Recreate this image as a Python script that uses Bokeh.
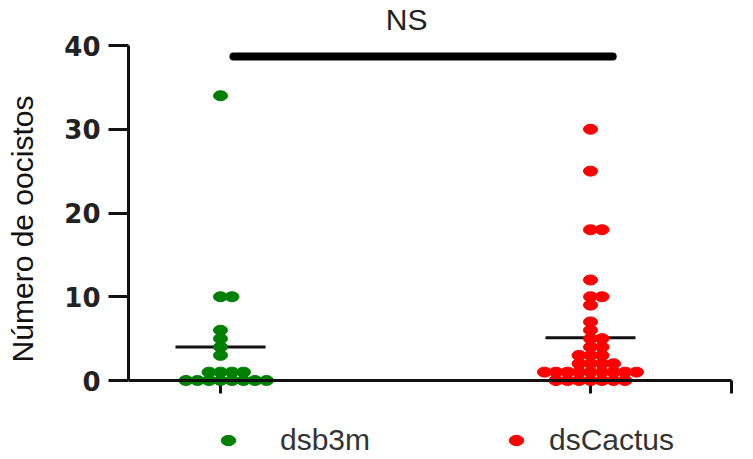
import numpy as np
from bokeh.plotting import figure
from bokeh.models import (LinearAxis, FixedTicker, Range1d, Legend, LegendItem,
                          Label, ColumnDataSource, CustomJSTickFormatter)
from bokeh.embed import file_html
from bokeh.resources import INLINE

# ---------------- data ----------------
groups = ["dsb3m", "dsCactus"]
group_pos = [1, 2]
colors = ["#008000", "#ff0000"]
dsb3m = [34, 10, 10, 6, 5, 4, 3, 1, 1, 1, 1, 0, 0, 0, 0, 0, 0, 0, 0]
dscactus = [30, 25, 18, 18, 12, 10, 10, 9, 7, 6, 5, 5, 4, 4, 3, 3, 3,
            2, 2, 2, 2, 1, 1, 1, 1, 1, 1, 1, 1, 1, 0, 0, 0, 0, 0, 0, 0]
y_ticks = [0, 10, 20, 30, 40]
y_label = "Número de oocistos"
sig_label = "NS"

# ---------------- layout ----------------
W, H = 753, 459
LEFT, RIGHT, TOP, BOTTOM = 128, 18, 0, 2
PX_X = 370.0                      # screen px per x unit
X_START = 1 - (220 - LEFT) / PX_X
X_AXIS_END = 2 + (731 - 590) / PX_X
X_END = X_START + (W - LEFT - RIGHT) / PX_X
PX_Y = 8.375                      # screen px per y unit
Y_END = 40 + 45 / PX_Y
Y_START = Y_END - (H - TOP - BOTTOM) / PX_Y
MW, MH = 14, 10          # marker size in screen px
FONT = "Liberation Sans"


def swarm(values, overlap=0.82):
    """Beeswarm offsets (data units) so that the ellipses barely overlap."""
    vals = np.asarray(values, dtype=float)
    order = np.argsort(vals, kind="stable")
    placed = []
    offs = np.zeros(len(vals))
    cands = [0.0]
    for k in range(1, 400):
        cands += [0.5 * k, -0.5 * k]
    for i in order:
        yy = vals[i] * PX_Y
        for c in cands:
            if all(((c - qx) / MW) ** 2 + ((yy - qy) / MH) ** 2 >= overlap ** 2
                   for qx, qy in placed):
                break
        placed.append((c, yy))
        offs[i] = c
    return offs / PX_X


p = figure(width=W, height=H, title=None,
           x_range=Range1d(X_START, X_END), y_range=Range1d(Y_START, Y_END),
           output_backend="svg", toolbar_location=None,
           x_axis_type=None, y_axis_type=None,
           min_border_left=LEFT, min_border_right=RIGHT,
           min_border_top=TOP, min_border_bottom=BOTTOM,
           outline_line_color=None, background_fill_color="white")

# axes
yaxis = LinearAxis(ticker=FixedTicker(ticks=y_ticks), bounds=(y_ticks[0], y_ticks[-1]),
                   axis_label=y_label,
                   axis_line_width=3, axis_line_color="#111",
                   major_tick_line_width=3, major_tick_line_color="#111",
                   major_tick_in=0, major_tick_out=20,
                   minor_tick_line_color=None,
                   major_label_text_font="DejaVu Sans", major_label_text_font_size="26px",
                   major_label_text_font_style="bold", major_label_text_color="#222",
                   major_label_standoff=8,
                   axis_label_text_font=FONT, axis_label_text_font_size="30px",
                   axis_label_text_font_style="normal", axis_label_text_color="#111",
                   axis_label_standoff=22)
p.add_layout(yaxis, "left")

x_tick_pos = group_pos + [X_AXIS_END]
xaxis = LinearAxis(ticker=FixedTicker(ticks=x_tick_pos), fixed_location=0,
                   bounds=(X_START, X_AXIS_END),
                   axis_line_width=3, axis_line_color="#111",
                   major_tick_line_color=None, major_tick_in=0, major_tick_out=0,
                   minor_tick_line_color=None,
                   formatter=CustomJSTickFormatter(code="return ''"),
                   major_label_text_font_size="1px", major_label_standoff=0)
p.add_layout(xaxis, "below")
# downward tick marks of the x axis
p.segment(x0=x_tick_pos, x1=x_tick_pos, y0=[0] * len(x_tick_pos),
          y1=[-13 / PX_Y] * len(x_tick_pos), line_color="#111", line_width=3)

# mean lines
series = [dsb3m, dscactus]
means = [float(np.mean(s)) for s in series]
half = 45 / PX_X
p.segment(x0=[g - half for g in group_pos], x1=[g + half for g in group_pos],
          y0=means, y1=means, line_color="#111", line_width=3)

# points
renderers = []
for g, s, c in zip(group_pos, series, colors):
    xs = g + swarm(s)
    src = ColumnDataSource(dict(x=xs, y=s))
    r = p.ellipse(x="x", y="y", width=MW, height=MH, width_units="screen",
                  height_units="screen", source=src, fill_color=c, line_color=c,
                  line_width=1)
    renderers.append(r)

# significance bar
p.segment(x0=[1.035], x1=[2.06], y0=[38.7], y1=[38.7], line_color="black",
          line_width=8, line_cap="round")
p.add_layout(Label(x=1.503, y=43.15, text=sig_label, text_align="center",
                   text_baseline="alphabetic", text_font=FONT,
                   text_font_size="30px", text_color="#222"))

# legends (one per group so each can be placed freely)
leg_specs = [(91, 43), (379, 24)]
for r, name, (vx, std) in zip(renderers, groups, leg_specs):
    leg = Legend(items=[LegendItem(label=name, renderers=[r])], location=(vx, 0),
                 orientation="horizontal", padding=0, margin=0, spacing=0,
                 glyph_width=18, glyph_height=18, label_height=20,
                 label_standoff=std, label_text_font=FONT,
                 label_text_font_size="30px", label_text_color="#333",
                 border_line_color=None, background_fill_alpha=0)
    p.add_layout(leg, "center")

open("out.html", "w").write(file_html(p, INLINE))
